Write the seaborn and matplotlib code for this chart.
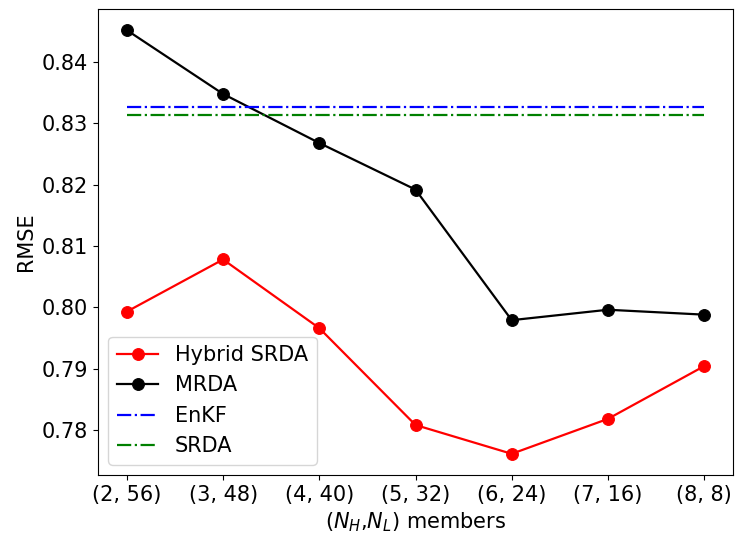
import matplotlib
matplotlib.use("Agg")
import matplotlib.pyplot as plt
import seaborn as sns
import pandas as pd

categories = ["(2, 56)", "(3, 48)", "(4, 40)", "(5, 32)", "(6, 24)", "(7, 16)", "(8, 8)"]
hybrid_srda = [0.7993, 0.8078, 0.7966, 0.7808, 0.7761, 0.7818, 0.7904]
mrda = [0.8452, 0.8348, 0.8268, 0.8192, 0.7979, 0.7996, 0.7988]
enkf = [0.8326] * 7
srda = [0.8313] * 7

plt.rcParams["font.family"] = ["DejaVu Sans"]
plt.rcParams["font.size"] = 15

fig = plt.figure(figsize=(7.44, 5.38), dpi=100)
ax = fig.add_axes([98 / 744, 1 - 475 / 538, (733 - 98) / 744, (475 - 9) / 538])

x = list(range(len(categories)))
sns.lineplot(x=x, y=hybrid_srda, ax=ax, color="red", marker="o", markersize=8.5,
             markeredgecolor="red", linewidth=1.6, label="Hybrid SRDA")
sns.lineplot(x=x, y=mrda, ax=ax, color="black", marker="o", markersize=8.5,
             markeredgecolor="black", linewidth=1.6, label="MRDA")
sns.lineplot(x=x, y=enkf, ax=ax, color="blue", linestyle="-.", linewidth=1.6, label="EnKF")
sns.lineplot(x=x, y=srda, ax=ax, color="green", linestyle="-.", linewidth=1.6, label="SRDA")

ax.set_xticks(x)
ax.set_xticklabels(categories)
ax.set_yticks([0.78, 0.79, 0.80, 0.81, 0.82, 0.83, 0.84])
ax.set_yticklabels(["0.78", "0.79", "0.80", "0.81", "0.82", "0.83", "0.84"])
ax.tick_params(labelsize=15)
ax.set_xlabel(r"($N_H$,$N_L$) members", fontsize=15)
ax.set_ylabel("RMSE", fontsize=15)
ax.legend(loc="lower left", fontsize=15)

fig.savefig("out.png", dpi=100)
